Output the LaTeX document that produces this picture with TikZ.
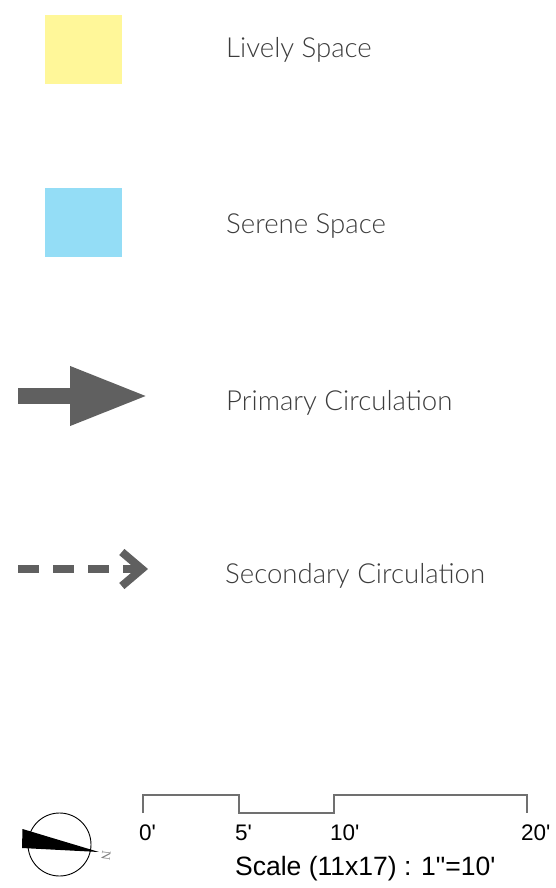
\documentclass[tikz,border=0pt]{standalone}
\usepackage{fontspec}
\usetikzlibrary{arrows.meta,positioning}
\newfontfamily\legendfont{Lato Light}
\newfontfamily\scalebarfont{Liberation Sans}
\newfontfamily\northfont{Liberation Serif}
\definecolor{livelyyellow}{HTML}{FFF799}
\definecolor{sereneblue}{HTML}{94DDF6}
\definecolor{circgray}{HTML}{606060}
\definecolor{textgray}{HTML}{3C3C3C}
\definecolor{bargray}{HTML}{707070}

\begin{document}
\begin{tikzpicture}[
    x=1pt, y=-1pt,
    swatch/.style={rectangle, minimum width=77pt, minimum height=69pt, inner sep=0pt},
    legendtext/.style={anchor=base west, inner sep=0pt, text=textgray, font=\legendfont\fontsize{27.6}{30}\selectfont},
    primary/.style={circgray, line width=16pt, -{Triangle[length=78pt, width=55pt]}},
    secondary/.style={circgray, line width=8pt, dash pattern=on 21pt off 14pt, -{Straight Barb[length=20pt, width=34pt]}},
    scalelabel/.style={anchor=base west, inner sep=0pt, font=\scalebarfont\fontsize{22.5}{24}\selectfont},
    scalebar/.style={bargray, line width=1.3pt}
]
\useasboundingbox (0,0) rectangle (556,888);

% legend
\node[swatch, fill=livelyyellow] (lively) at (83.5,49.5) {};
\node[swatch, fill=sereneblue] (serene) at (83.5,222.5) {};
\coordinate (primstart) at (18,396);
\coordinate (primend) at (148,396);
\coordinate (secstart) at (18,569);
\coordinate (secend) at (148,569);

\node[legendtext] (livelylabel) at (226,58) {Lively Space};
\node[legendtext] (serenelabel) at (226,233) {Serene Space};
\node[legendtext] (primlabel) at (226,410) {Primary Circulation};
\node[legendtext] (seclabel) at (225,583) {Secondary Circulation};

\draw[primary] (primstart) -- (primend);
\draw[secondary] (secstart) -- (secend);

% north arrow
\node[circle, draw, line width=0.9pt, minimum size=63pt, inner sep=0pt] (compass) at (59.5,844.5) {};
\fill (22.5,829) -- (22,848) -- (99,852) -- cycle;
\node[rotate=-97, text=gray, inner sep=0pt, font=\northfont\fontsize{13}{14}\selectfont] (north) at (106,856) {N};

% scale bar
\coordinate (s0) at (143,813);
\coordinate (s5) at (239,813);
\coordinate (s10) at (334,813);
\coordinate (s20) at (527,813);
\draw[scalebar] (s0) -- ++(0,-18) -| (s5) -- (s10) -- ++(0,-18) -| (s20);

\node[scalelabel] (l0) at (139,840) {0\textquotesingle};
\node[scalelabel] (l5) at (235,840) {5\textquotesingle};
\node[scalelabel] (l10) at (330,840) {10\textquotesingle};
\node[scalelabel] (l20) at (521,840) {20\textquotesingle};
\node[scalelabel, font=\scalebarfont\fontsize{26.5}{28}\selectfont] (scaletext) at (235,875) {Scale (11x17) : 1\textquotedbl=10\textquotesingle};

\end{tikzpicture}
\end{document}
